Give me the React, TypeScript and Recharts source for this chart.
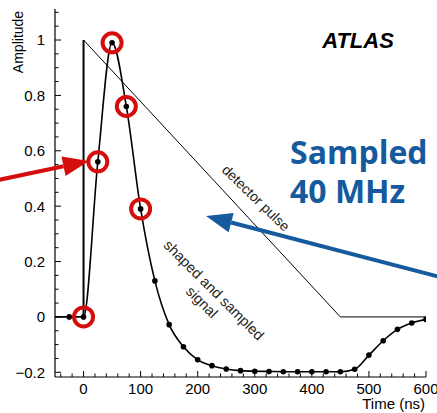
import React from "react";
import {
  ComposedChart,
  Line,
  Scatter,
  XAxis,
  YAxis,
} from "recharts";

// sampled (shaped) signal, one point every 25 ns
const sampleTimes = [
  -50, -25, 0, 25, 50, 75, 100, 125, 150, 175, 200, 225, 250, 275, 300, 325,
  350, 375, 400, 425, 450, 475, 500, 525, 550, 575, 600,
];
const sampleValues = [
  0, 0, 0, 0.56, 0.99, 0.76, 0.39, 0.13, -0.028, -0.108, -0.155, -0.176,
  -0.188, -0.194, -0.196, -0.197, -0.198, -0.198, -0.198, -0.198, -0.198,
  -0.189, -0.138, -0.086, -0.045, -0.022, -0.009,
];
// samples highlighted with red rings
const circledTimes = [0, 25, 50, 75, 100];

// triangular detector pulse
const pulseRiseTimes = [0, 0];
const pulseRiseValues = [0, 1];
const pulseFallTimes = [0, 450, 600];
const pulseFallValues = [1, 0, 0];

const xTicks = [
  -40, -20, 0, 20, 40, 60, 80, 100, 120, 140, 160, 180, 200, 220, 240, 260,
  280, 300, 320, 340, 360, 380, 400, 420, 440, 460, 480, 500, 520, 540, 560,
  580, 600,
];
const xMajor = [0, 100, 200, 300, 400, 500, 600];
const yTicks = [
  -0.2, -0.15, -0.1, -0.05, 0, 0.05, 0.1, 0.15, 0.2, 0.25, 0.3, 0.35, 0.4,
  0.45, 0.5, 0.55, 0.6, 0.65, 0.7, 0.75, 0.8, 0.85, 0.9, 0.95, 1, 1.05, 1.1,
];
const yMajor = [-0.2, 0, 0.2, 0.4, 0.6, 0.8, 1];

const samples = sampleTimes.map((t, i) => ({ t, v: sampleValues[i] }));
const circled = samples.filter((d) => circledTimes.includes(d.t));
const pulseRise = pulseRiseTimes.map((t, i) => ({ t, v: pulseRiseValues[i] }));
const pulseFall = pulseFallTimes.map((t, i) => ({ t, v: pulseFallValues[i] }));

const FONT = "'Liberation Sans', Arial, Helvetica, sans-serif";
const RED = "#d40d0d";
const BLUE = "#165a9e";

const fmt = (v: number) => (v < 0 ? "\u2212" + Math.abs(v) : String(v));
const isMajor = (list: number[], v: number) =>
  list.some((m) => Math.abs(m - v) < 1e-6);

const YTick = (p: any) => {
  const { x, y, payload } = p;
  const major = isMajor(yMajor, payload.value);
  return (
    <g>
      <line x1={x} x2={x + (major ? 6 : 3.5)} y1={y} y2={y} stroke="#000" />
      {major && (
        <text
          x={x - 10}
          y={y}
          dy="0.36em"
          textAnchor="end"
          fontSize={15}
          fontFamily={FONT}
          fill="#000"
        >
          {fmt(payload.value)}
        </text>
      )}
    </g>
  );
};

const XTick = (p: any) => {
  const { x, y, payload } = p;
  const major = isMajor(xMajor, payload.value);
  return (
    <g>
      <line x1={x} x2={x} y1={y} y2={y - (major ? 6 : 3.5)} stroke="#000" />
      {major && (
        <text
          x={x}
          y={y + 17}
          textAnchor="middle"
          fontSize={15}
          fontFamily={FONT}
          fill="#000"
        >
          {payload.value}
        </text>
      )}
    </g>
  );
};

const arrowHead = (
  tail: [number, number],
  tip: [number, number],
  len: number,
  half: number
) => {
  const dx = tip[0] - tail[0];
  const dy = tip[1] - tail[1];
  const d = Math.hypot(dx, dy);
  const ux = dx / d;
  const uy = dy / d;
  const bx = tip[0] - ux * len;
  const by = tip[1] - uy * len;
  return {
    base: [bx, by],
    points: `${tip[0]},${tip[1]} ${bx - uy * half},${by + ux * half} ${
      bx + uy * half
    },${by - ux * half}`,
  };
};

const Arrow = ({
  tail,
  tip,
  color,
}: {
  tail: [number, number];
  tip: [number, number];
  color: string;
}) => {
  const h = arrowHead(tail, tip, 26, 10);
  return (
    <g>
      <line
        x1={tail[0]}
        y1={tail[1]}
        x2={h.base[0]}
        y2={h.base[1]}
        stroke={color}
        strokeWidth={4}
      />
      <polygon points={h.points} fill={color} />
    </g>
  );
};

const SampleDot = (p: any) => {
  if (p.index === 0) return <g key={`sd${p.index}`} />;
  return <circle key={`sd${p.index}`} cx={p.cx} cy={p.cy} r={2.8} fill="#000" />;
};

const Ring = (p: any) => (
  <circle cx={p.cx} cy={p.cy} r={9.5} fill="none" stroke={RED} strokeWidth={4} />
);

export default function App() {
  return (
    <div
      style={{
        position: "absolute",
        left: 0,
        top: 0,
        width: 437,
        height: 413,
        background: "#fff",
      }}
    >
      <ComposedChart
        width={437}
        height={413}
        margin={{ top: 9, right: 11, left: 0, bottom: 0 }}
      >
        <XAxis
          xAxisId={0}
          dataKey="t"
          type="number"
          domain={[-50, 600]}
          allowDataOverflow
          ticks={xTicks}
          interval={0}
          height={36}
          tickSize={0}
          tickMargin={0}
          tickLine={false}
          tick={<XTick />}
          axisLine={{ stroke: "#000", strokeWidth: 1.2 }}
        />
        <XAxis
          xAxisId="top"
          orientation="top"
          dataKey="t"
          type="number"
          domain={[-50, 600]}
          height={0}
          tick={false}
          tickLine={false}
          axisLine={{ stroke: "#000", strokeWidth: 1.2 }}
        />
        <YAxis
          yAxisId={0}
          type="number"
          domain={[-0.217, 1.112]}
          allowDataOverflow
          ticks={yTicks}
          interval={0}
          width={55}
          tickSize={0}
          tickMargin={0}
          tickLine={false}
          tick={<YTick />}
          axisLine={{ stroke: "#000", strokeWidth: 1.2 }}
        />
        <YAxis
          yAxisId="right"
          orientation="right"
          type="number"
          domain={[-0.217, 1.112]}
          width={0}
          tick={false}
          tickLine={false}
          axisLine={{ stroke: "#000", strokeWidth: 1.8 }}
        />
        <Line
          data={pulseRise}
          dataKey="v"
          type="linear"
          stroke="#000"
          strokeWidth={2}
          dot={false}
          isAnimationActive={false}
        />
        <Line
          data={pulseFall}
          dataKey="v"
          type="linear"
          stroke="#000"
          strokeWidth={1}
          dot={false}
          isAnimationActive={false}
        />
        <Line
          data={samples}
          dataKey="v"
          type="monotone"
          stroke="#000"
          strokeWidth={1.6}
          dot={SampleDot}
          activeDot={false}
          isAnimationActive={false}
        />
        <Scatter
          data={circled}
          dataKey="v"
          shape={Ring}
          isAnimationActive={false}
        />
      </ComposedChart>

      <svg
        width={437}
        height={413}
        style={{ position: "absolute", left: 0, top: 0, pointerEvents: "none" }}
      >
        <text
          x={23}
          y={42}
          transform="rotate(-90 23 42)"
          textAnchor="middle"
          fontSize={14}
          fontFamily={FONT}
          fill="#000"
        >
          Amplitude
        </text>
        <text
          x={425}
          y={409}
          textAnchor="end"
          fontSize={15}
          fontFamily={FONT}
          fill="#000"
        >
          Time (ns)
        </text>
        <text
          x={358}
          y={48}
          textAnchor="middle"
          fontSize={22}
          fontWeight="bold"
          fontStyle="italic"
          fontFamily={FONT}
          fill="#000"
        >
          ATLAS
        </text>
        <text
          x={256}
          y={198}
          dy="0.35em"
          transform="rotate(44 256 198)"
          textAnchor="middle"
          fontSize={14}
          fontFamily={FONT}
          fill="#222"
        >
          detector pulse
        </text>
        <text
          x={214}
          y={290}
          dy="0.35em"
          transform="rotate(45 214 290)"
          textAnchor="middle"
          fontSize={14.5}
          fontFamily={FONT}
          fill="#222"
        >
          shaped and sampled
        </text>
        <text
          x={202}
          y={302}
          dy="0.35em"
          transform="rotate(45 202 302)"
          textAnchor="middle"
          fontSize={14.5}
          fontFamily={FONT}
          fill="#222"
        >
          signal
        </text>
        <text
          x={290}
          y={164}
          fontSize={32}
          fontWeight="bold"
          fontFamily="'Open Sans', 'Noto Sans', sans-serif"
          fill={BLUE}
        >
          Sampled
        </text>
        <text
          x={290}
          y={203}
          fontSize={32}
          fontWeight="bold"
          fontFamily="'Open Sans', 'Noto Sans', sans-serif"
          fill={BLUE}
        >
          40 MHz
        </text>
        <Arrow tail={[440, 277]} tip={[206, 216]} color={BLUE} />
        <Arrow tail={[-2, 180]} tip={[89, 161]} color={RED} />
      </svg>
    </div>
  );
}
